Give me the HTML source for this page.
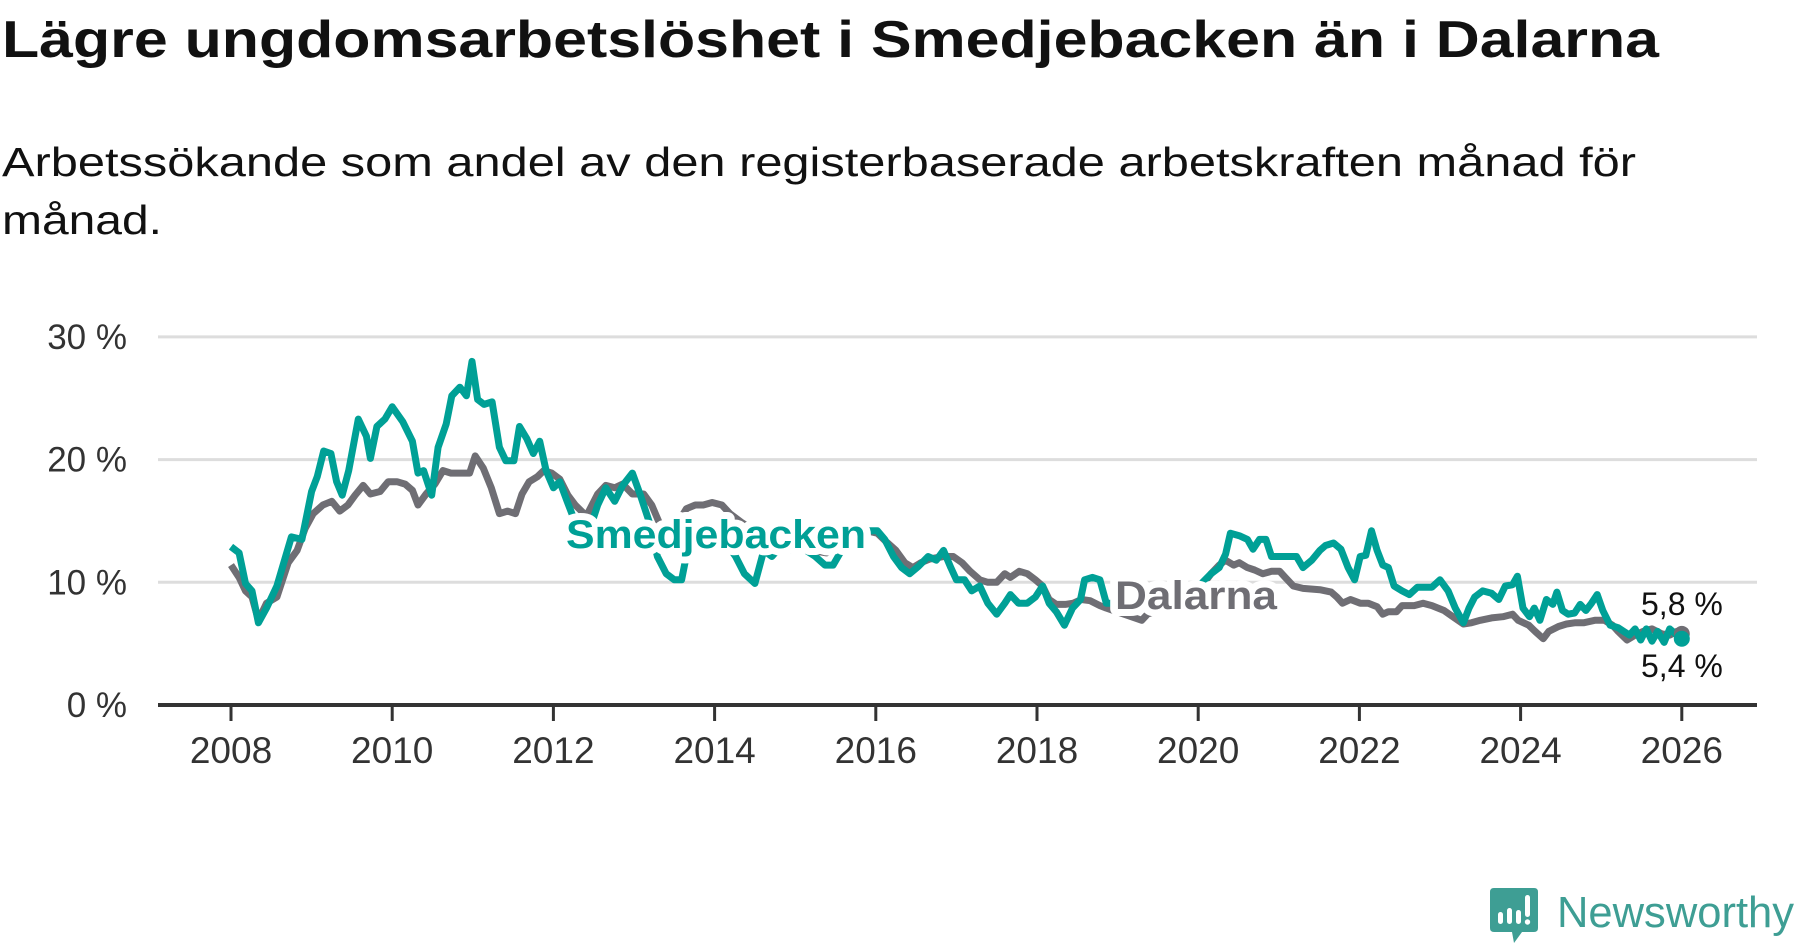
<!DOCTYPE html>
<html><head><meta charset="utf-8">
<style>
html,body{margin:0;padding:0;background:#fff;}
svg{display:block;font-family:"Liberation Sans",sans-serif;}
</style></head>
<body>
<svg id="chart" width="1800" height="948" viewBox="0 0 1800 948" xmlns="http://www.w3.org/2000/svg">
  <text x="2" y="57" font-size="52" font-weight="bold" fill="#111" textLength="1657" lengthAdjust="spacingAndGlyphs">Lägre ungdomsarbetslöshet i Smedjebacken än i Dalarna</text>
  <text x="2" y="176" font-size="41" fill="#111" textLength="1634" lengthAdjust="spacingAndGlyphs">Arbetssökande som andel av den registerbaserade arbetskraften månad för</text>
  <text x="2" y="234" font-size="41" fill="#111" textLength="160" lengthAdjust="spacingAndGlyphs">månad.</text>
  <g id="grid"></g>
  <g id="yaxis"></g>
  <g id="xaxis"></g>
  <g id="series"></g>
  <g id="labels"></g>
  <g>
    <path d="M1494 888 H1534 Q1538 888 1538 892 V928 Q1538 932 1534 932 H1522 L1514 943 L1512 932 H1494 Q1490 932 1490 928 V892 Q1490 888 1494 888 Z" fill="#3e9e94"/>
    <rect x="1498" y="912" width="5" height="12" rx="2.5" fill="#fff"/>
    <rect x="1507" y="908" width="5" height="16" rx="2.5" fill="#fff"/>
    <rect x="1516" y="910" width="5" height="14" rx="2.5" fill="#fff"/>
    <rect x="1525" y="895" width="5" height="22" rx="2.5" fill="#fff"/>
    <circle cx="1527.5" cy="922" r="2.7" fill="#fff"/>
    <text x="1557" y="927" font-size="44" fill="#3e9e94" textLength="237" lengthAdjust="spacingAndGlyphs">Newsworthy</text>
  </g>
</svg>
<script>
const yTicks = [0, 10, 20, 30];
const yTickLabels = ["0 %", "10 %", "20 %", "30 %"];
const xTicks = [2008, 2010, 2012, 2014, 2016, 2018, 2020, 2022, 2024, 2026];
const xTickLabels = ["2008","2010","2012","2014","2016","2018","2020","2022","2024","2026"];

const smedYears = [2008.00,2008.10,2008.18,2008.26,2008.34,2008.44,2008.57,2008.75,2008.88,2009.00,2009.07,2009.15,2009.24,2009.31,2009.38,2009.46,2009.58,2009.68,2009.73,2009.81,2009.91,2010.00,2010.13,2010.25,2010.32,2010.39,2010.49,2010.57,2010.67,2010.74,2010.84,2010.92,2010.99,2011.06,2011.14,2011.24,2011.33,2011.41,2011.51,2011.58,2011.67,2011.75,2011.83,2011.91,2012.00,2012.08,2012.17,2012.27,2012.41,2012.55,2012.65,2012.76,2012.86,2012.98,2013.08,2013.19,2013.29,2013.40,2013.50,2013.59,2013.69,2013.79,2013.90,2014.11,2014.26,2014.37,2014.50,2014.61,2014.71,2014.83,2014.97,2015.11,2015.25,2015.37,2015.47,2015.61,2015.75,2015.89,2016.02,2016.11,2016.22,2016.32,2016.42,2016.53,2016.65,2016.75,2016.84,2016.93,2017.00,2017.10,2017.19,2017.29,2017.39,2017.50,2017.60,2017.67,2017.77,2017.88,2017.98,2018.07,2018.15,2018.24,2018.34,2018.44,2018.54,2018.59,2018.69,2018.78,2018.86,2019.23,2019.59,2019.94,2020.01,2020.16,2020.26,2020.34,2020.40,2020.51,2020.61,2020.68,2020.76,2020.84,2020.91,2021.01,2021.13,2021.22,2021.30,2021.41,2021.51,2021.58,2021.68,2021.77,2021.86,2021.94,2022.01,2022.08,2022.15,2022.22,2022.29,2022.36,2022.43,2022.53,2022.62,2022.72,2022.82,2022.90,2023.00,2023.10,2023.19,2023.29,2023.36,2023.43,2023.53,2023.64,2023.73,2023.81,2023.90,2023.96,2024.03,2024.11,2024.17,2024.24,2024.32,2024.40,2024.45,2024.52,2024.59,2024.67,2024.74,2024.81,2024.88,2024.95,2025.02,2025.11,2025.21,2025.28,2025.35,2025.42,2025.49,2025.56,2025.63,2025.70,2025.78,2025.85,2025.92,2026.00];
const smedValues = [12.9,12.4,9.9,9.3,6.7,7.9,9.7,13.7,13.5,17.4,18.6,20.7,20.5,18.2,17.1,19.1,23.3,21.9,20.1,22.7,23.3,24.3,23.1,21.5,18.9,19.1,17.1,21.0,22.9,25.2,25.9,25.2,28.0,24.9,24.5,24.7,21.0,19.9,19.9,22.7,21.7,20.5,21.5,19.1,17.7,18.2,16.6,14.9,13.5,16.3,17.7,16.6,17.9,18.9,17.1,14.9,12.1,10.7,10.2,10.2,13.5,14.4,13.5,13.5,12.1,10.7,9.9,12.6,12.1,13.0,12.6,12.7,12.1,11.4,11.4,13.0,14.4,14.2,14.2,13.5,12.1,11.2,10.7,11.3,12.1,11.8,12.6,11.2,10.2,10.2,9.3,9.7,8.3,7.4,8.3,9.0,8.3,8.3,8.8,9.7,8.3,7.6,6.5,7.9,8.6,10.2,10.4,10.2,8.3,8.3,8.8,9.7,9.7,10.7,11.2,12.3,14.0,13.8,13.5,12.7,13.5,13.5,12.1,12.1,12.1,12.1,11.2,11.8,12.6,13.0,13.2,12.7,11.2,10.2,12.1,12.2,14.2,12.6,11.4,11.2,9.7,9.3,9.0,9.6,9.6,9.6,10.2,9.3,7.9,6.7,7.9,8.8,9.3,9.1,8.6,9.7,9.8,10.5,7.9,7.2,7.9,6.9,8.6,8.2,9.2,7.7,7.4,7.5,8.2,7.7,8.3,9.0,7.7,6.5,6.3,6.0,5.7,6.2,5.3,6.2,5.2,6.0,5.1,6.2,5.8,5.4];

const dalYears = [2008.00,2008.10,2008.18,2008.26,2008.34,2008.44,2008.57,2008.71,2008.82,2008.92,2009.02,2009.14,2009.25,2009.35,2009.45,2009.54,2009.64,2009.73,2009.85,2009.95,2010.06,2010.16,2010.25,2010.32,2010.42,2010.53,2010.63,2010.73,2010.84,2010.96,2011.03,2011.13,2011.23,2011.33,2011.43,2011.53,2011.61,2011.70,2011.80,2011.88,2011.98,2012.08,2012.18,2012.27,2012.41,2012.55,2012.65,2012.76,2012.86,2012.98,2013.12,2013.22,2013.33,2013.55,2013.65,2013.76,2013.86,2013.97,2014.09,2014.19,2014.33,2014.54,2014.83,2015.11,2015.39,2015.68,2015.89,2016.02,2016.13,2016.25,2016.36,2016.46,2016.56,2016.67,2016.84,2016.96,2017.07,2017.17,2017.29,2017.39,2017.50,2017.60,2017.67,2017.78,2017.88,2017.98,2018.07,2018.15,2018.24,2018.35,2018.45,2018.55,2018.66,2018.78,2018.86,2019.30,2019.37,2019.66,2019.94,2020.16,2020.26,2020.34,2020.44,2020.51,2020.61,2020.70,2020.80,2020.91,2021.01,2021.08,2021.18,2021.30,2021.51,2021.65,2021.72,2021.79,2021.89,2022.01,2022.11,2022.22,2022.29,2022.36,2022.46,2022.53,2022.68,2022.79,2022.90,2023.05,2023.16,2023.29,2023.39,2023.50,2023.64,2023.78,2023.90,2023.97,2024.10,2024.18,2024.28,2024.35,2024.47,2024.57,2024.67,2024.78,2024.92,2025.04,2025.14,2025.21,2025.32,2025.42,2025.52,2025.63,2025.75,2025.85,2025.94,2026.00];
const dalValues = [11.4,10.4,9.3,8.8,6.9,8.3,8.8,11.6,12.6,14.4,15.6,16.3,16.6,15.8,16.3,17.1,17.9,17.2,17.4,18.2,18.2,18.0,17.5,16.3,17.2,18.0,19.1,18.9,18.9,18.9,20.3,19.3,17.7,15.6,15.8,15.6,17.2,18.2,18.6,19.1,18.9,18.4,17.1,16.3,15.4,17.2,17.9,17.7,18.0,17.2,17.2,16.3,14.6,14.9,16.0,16.3,16.3,16.5,16.3,15.6,14.9,14.0,13.0,12.7,12.4,13.7,14.2,14.0,13.3,12.6,11.6,11.2,11.6,11.9,12.1,12.1,11.6,10.9,10.2,10.0,10.0,10.7,10.4,10.9,10.7,10.2,9.7,8.6,8.2,8.2,8.3,8.6,8.5,8.1,7.9,6.9,7.4,8.1,8.8,10.7,11.4,11.8,11.4,11.6,11.2,11.0,10.7,10.9,10.9,10.4,9.7,9.5,9.4,9.2,8.8,8.3,8.6,8.3,8.3,8.0,7.4,7.6,7.6,8.1,8.1,8.3,8.1,7.7,7.2,6.6,6.7,6.9,7.1,7.2,7.4,6.9,6.5,6.0,5.4,6.0,6.4,6.6,6.7,6.7,6.9,6.9,6.5,6.0,5.3,5.7,6.0,6.2,5.8,5.7,6.0,5.8];

const NS = "http://www.w3.org/2000/svg";
const X0 = 231, PXYEAR = 80.6, Y0 = 705, PXVAL = 12.27;
function xScale(yr){ return X0 + (yr - 2008) * PXYEAR; }
function yScale(v){ return Y0 - v * PXVAL; }
function mk(tag, attrs, parent){ const e = document.createElementNS(NS, tag); for (const k in attrs) e.setAttribute(k, attrs[k]); parent.appendChild(e); return e; }

const grid = document.getElementById('grid');
const yaxis = document.getElementById('yaxis');
yTicks.forEach((t, i) => {
  if (t > 0) {
    const g = mk('line', {x1:158, x2:1757, y1:yScale(t), y2:yScale(t), stroke:'#dddddd', 'stroke-width':3}, grid);
    
    
  }
  const tx = mk('text', {x:127, y:yScale(t)+12, 'font-size':35, fill:'#333', 'text-anchor':'end'}, yaxis);
  tx.textContent = yTickLabels[i];
  
  
});

const xaxis = document.getElementById('xaxis');
const base = mk('line', {x1:158, x2:1757, y1:Y0, y2:Y0, stroke:'#333', 'stroke-width':4}, xaxis);


xTicks.forEach((t, i) => {
  const tk = mk('line', {x1:xScale(t), x2:xScale(t), y1:Y0, y2:Y0+16, stroke:'#333', 'stroke-width':3}, xaxis);
  
  
  const tx = mk('text', {x:xScale(t), y:763, 'font-size':37, fill:'#333', 'text-anchor':'middle'}, xaxis);
  tx.textContent = xTickLabels[i];
  
  
});

const series = document.getElementById('series');
function path(xs, vs){ return xs.map((x,i)=>(i?'L':'M')+xScale(x).toFixed(1)+' '+yScale(vs[i]).toFixed(1)).join(' '); }
const dl = mk('path', {d:path(dalYears, dalValues), fill:'none', stroke:'#6f6e74', 'stroke-width':7, 'stroke-linejoin':'round'}, series);


const sl = mk('path', {d:path(smedYears, smedValues), fill:'none', stroke:'#00a096', 'stroke-width':7, 'stroke-linejoin':'round'}, series);



const dLast = dalValues.length - 1, sLast = smedValues.length - 1;
const dd = mk('circle', {cx:xScale(dalYears[dLast]), cy:yScale(dalValues[dLast]), r:8, fill:'#6f6e74'}, series);


const sd = mk('circle', {cx:xScale(smedYears[sLast]), cy:yScale(smedValues[sLast]), r:8, fill:'#00a096'}, series);



const labels = document.getElementById('labels');
const l1 = mk('text', {x:566, y:548, 'font-size':40, 'font-weight':'bold', fill:'#00a096', stroke:'#fff', 'stroke-width':14, 'paint-order':'stroke', 'stroke-linejoin':'round', textLength:300, lengthAdjust:'spacingAndGlyphs'}, labels);
l1.textContent = 'Smedjebacken';


const l2 = mk('text', {x:1115, y:609, 'font-size':40, 'font-weight':'bold', fill:'#6f6e74', stroke:'#fff', 'stroke-width':14, 'paint-order':'stroke', 'stroke-linejoin':'round', textLength:162, lengthAdjust:'spacingAndGlyphs'}, labels);
l2.textContent = 'Dalarna';


const v1 = mk('text', {x:1641, y:615, 'font-size':32, fill:'#111'}, labels);
v1.textContent = dalValues[dLast].toFixed(1).replace('.', ',') + ' %';


const v2 = mk('text', {x:1641, y:677, 'font-size':32, fill:'#111'}, labels);
v2.textContent = smedValues[sLast].toFixed(1).replace('.', ',') + ' %';


</script>
</body></html>
